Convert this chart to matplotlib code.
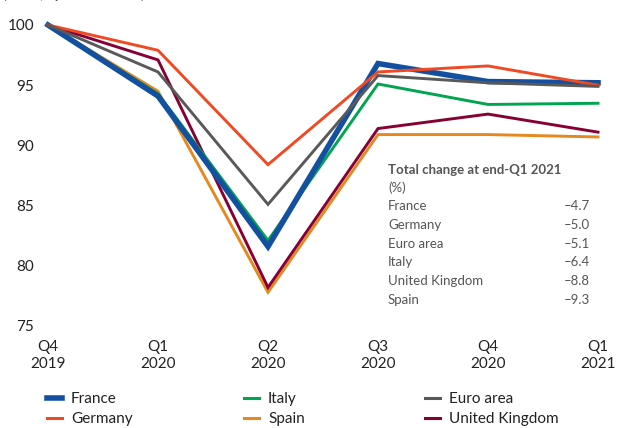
import matplotlib
matplotlib.use("Agg")
import matplotlib.pyplot as plt
from matplotlib.lines import Line2D

plt.rcParams['font.family'] = ['Lato', 'DejaVu Sans']

quarters = ["Q4\n2019", "Q1\n2020", "Q2\n2020", "Q3\n2020", "Q4\n2020", "Q1\n2021"]

france = [100, 94.1, 81.6, 96.8, 95.3, 95.2]
germany = [100, 97.9, 88.4, 96.1, 96.6, 95.0]
euro_area = [100, 96.1, 85.1, 95.8, 95.2, 94.9]
italy = [100, 94.3, 82.1, 95.1, 93.4, 93.5]
spain = [100, 94.5, 77.8, 90.9, 90.9, 90.7]
uk = [100, 97.1, 78.2, 91.4, 92.6, 91.1]

table_countries = ["France", "Germany", "Euro area", "Italy", "United Kingdom", "Spain"]
table_values = ["\u20134.7", "\u20135.0", "\u20135.1", "\u20136.4", "\u20138.8", "\u20139.3"]

yticks = [75, 80, 85, 90, 95, 100]

colors = {
    "France": "#1450a0",
    "Germany": "#f04a24",
    "Italy": "#00a550",
    "Spain": "#e3891f",
    "Euro area": "#595959",
    "United Kingdom": "#860034",
}

W, H = 617, 428
fig = plt.figure(figsize=(W / 100, H / 100), dpi=100)
ax = fig.add_axes([48 / W, 1 - 326 / H, (598 - 48) / W, (326 - 25) / H])

x = list(range(len(quarters)))
thin, thick = 2.1, 4.0
series = [
    ("Spain", spain, thin),
    ("United Kingdom", uk, thin),
    ("Italy", italy, thin),
    ("France", france, thick),
    ("Germany", germany, thin),
    ("Euro area", euro_area, thin),
]
for name, vals, lw in series:
    ax.plot(x, vals, color=colors[name], lw=lw, clip_on=False, solid_joinstyle='miter')

ax.set_xlim(0, len(quarters) - 1)
ax.set_ylim(75, 100)
ax.set_yticks(yticks)
ax.set_yticklabels([str(v) for v in yticks])
ax.set_xticks(x)
ax.set_xticklabels(quarters, linespacing=1.3)
for s in ax.spines.values():
    s.set_visible(False)
ax.tick_params(axis='both', length=0, labelsize=11, colors='#222222')
ax.tick_params(axis='y', pad=10)
ax.tick_params(axis='x', pad=10)

# partially visible axis label at very top (cut off in the source)
fig.text(3 / W, 1 + 1 / H, "(Index, Q4 2019 = 100)", fontsize=10, color='#444444',
         va='baseline', ha='left')

# table annotation
tx, vx = 388 / W, 590 / W
tcol = '#555555'
fig.text(tx, 1 - 170 / H, "Total change at end-Q1 2021", fontsize=9.5, fontweight='bold',
         color=tcol, va='center', ha='left')
fig.text(tx, 1 - 188 / H, "(%)", fontsize=9.5, color=tcol, va='center', ha='left')
for i, (c, v) in enumerate(zip(table_countries, table_values)):
    yy = 1 - (206 + i * 18.8) / H
    fig.text(tx, yy, c, fontsize=9.5, color=tcol, va='center', ha='left')
    fig.text(vx, yy, v, fontsize=9.5, color=tcol, va='center', ha='right')

# legend in three columns
legend_cols = [["France", "Germany"], ["Italy", "Spain"], ["Euro area", "United Kingdom"]]
col_x = [47, 244, 425]
for cx, names in zip(col_x, legend_cols):
    handles = [Line2D([], [], color=colors[n], lw=4 if n == "France" else 2.2) for n in names]
    leg = fig.legend(handles, names, loc='upper left', bbox_to_anchor=(cx / W, 1 - 392 / H),
                     frameon=False, fontsize=11, handlelength=0.98, handletextpad=0.59,
                     borderpad=0, borderaxespad=0, labelspacing=0.42)
    for t in leg.get_texts():
        t.set_color('#222222')

fig.savefig("out.png", dpi=100)
